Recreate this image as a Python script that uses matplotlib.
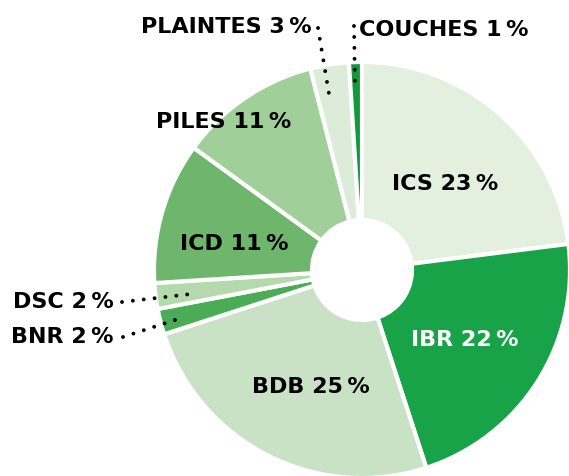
import matplotlib
matplotlib.use('Agg')
import matplotlib.pyplot as plt

# slices clockwise from 12 o'clock
labels = ['ICS', 'IBR', 'BDB', 'BNR', 'DSC', 'ICD', 'PILES', 'PLAINTES', 'COUCHES']
values = [23, 22, 25, 2, 2, 11, 11, 3, 1]
colors = ['#e3efdf', '#18a348', '#c9e2c5', '#4aad55', '#b4d9ac',
          '#6db66c', '#a1cf99', '#dcecd8', '#0f9a3c']

W, H = 569, 476
cx, cy, R = 362, 270, 208   # pie centre / radius in pixels

def px(x, y):
    return ((x - cx) / R, (cy - y) / R)

fig = plt.figure(figsize=(W / 100, H / 100), dpi=100)
ax = fig.add_axes([0, 0, 1, 1])
ax.pie(values, colors=colors, startangle=90, counterclock=False,
       radius=1, wedgeprops=dict(width=1 - 50 / R, edgecolor='white', linewidth=3))
ax.set_xlim(-cx / R, (W - cx) / R)
ax.set_ylim(-(H - cy) / R, cy / R)
ax.set_aspect('equal', adjustable='datalim')
ax.axis('off')

def pct(name, v):
    return '%s %d\u2009%%' % (name, v)

fs = 16
txt = dict(fontsize=fs, fontweight='bold', family='DejaVu Sans', va='center')
# labels inside the slices
inside = {'ICS': (445, 184, 'black'), 'IBR': (465, 340, 'white'),
          'BDB': (311, 387, 'black'), 'ICD': (234, 244, 'black'),
          'PILES': (224, 122, 'black')}
for name, (x, y, c) in inside.items():
    v = values[labels.index(name)]
    ax.text(*px(x, y), pct(name, v), color=c, ha='center', **txt)

# outside labels with dotted leaders
ax.text(*px(312, 27), pct('PLAINTES', values[7]), ha='right', **txt)
ax.text(*px(359, 30), pct('COUCHES', values[8]), ha='left', **txt)
ax.text(*px(114, 302), pct('DSC', values[4]), ha='right', **txt)
ax.text(*px(113, 337), pct('BNR', values[3]), ha='right', **txt)

leaders = [((318, 28), (329, 94)), ((354, 26), (355, 85)),
           ((122, 302), (191, 294)), ((123, 337), (175, 320))]
for a, b in leaders:
    xa, ya = px(*a)
    xb, yb = px(*b)
    ax.plot([xa, xb], [ya, yb], color='black', lw=2.8,
            linestyle=(0, (0.01, 2.8)), dash_capstyle='round')

fig.savefig('out.png', dpi=100)
